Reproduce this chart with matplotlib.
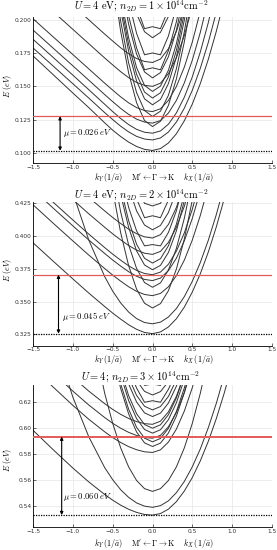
import numpy as np
import matplotlib
matplotlib.use('Agg')
import matplotlib.pyplot as plt

nan = np.nan

# k grid (1/a) shared by the wide bands of every panel
K = [-1.5, -1.25, -1.0, -0.8, -0.6, -0.5, -0.4, -0.3, -0.2, -0.1, 0.0,
     0.1, 0.2, 0.3, 0.4, 0.5, 0.6, 0.7, 0.8, 0.9, 1.0]

# ---- panel 1: n2D = 1e14 ----
p1_wide = [
    [0.173, 0.159, 0.145, 0.134, 0.1225, 0.117, 0.1122, 0.108, 0.1047, 0.1025, 0.1017,
     0.1031, 0.1073, 0.1143, 0.1241, 0.1367, 0.1521, 0.1703, 0.1913, 0.2151, 0.2417],
    [0.179, 0.1655, 0.152, 0.1412, 0.1302, 0.125, 0.12, 0.1157, 0.1123, 0.1103, 0.1096,
     0.1111, 0.1156, 0.1231, 0.1336, 0.1471, 0.1636, 0.1831, 0.2056, 0.2311, nan],
    [0.1855, 0.172, 0.1585, 0.1475, 0.1365, 0.131, 0.1258, 0.1212, 0.1176, 0.1154, 0.1147,
     0.1164, 0.1215, 0.13, 0.1419, 0.1572, 0.1759, 0.198, 0.2235, nan, nan],
    [0.1925, 0.179, 0.1655, 0.1547, 0.1438, 0.1385, 0.1334, 0.1289, 0.1253, 0.1231, 0.1223,
     0.1242, 0.1299, 0.1394, 0.1527, 0.1698, 0.1907, 0.2154, nan, nan, nan],
    [0.201, 0.1875, 0.174, 0.1632, 0.1524, 0.1472, 0.1421, 0.1376, 0.134, 0.1318, 0.131,
     0.1331, 0.1394, 0.1499, 0.1646, 0.1835, 0.2066, nan, nan, nan, nan],
    [0.22, 0.2065, 0.193, 0.1822, 0.1714, 0.1662, 0.1611, 0.1566, 0.153, 0.1508, 0.150,
     0.1524, 0.1596, 0.1716, 0.1884, 0.21, nan, nan, nan, nan, nan],
    [nan, 0.2245, 0.211, 0.2002, 0.1894, 0.1842, 0.1791, 0.1746, 0.171, 0.1688, 0.168,
     0.1706, 0.1784, 0.1914, 0.2096, nan, nan, nan, nan, nan, nan],
]
p1_k_steep = [-0.5, -0.4, -0.3, -0.2, -0.1, 0.0, 0.1, 0.2, 0.3, 0.4, 0.5, 0.6]
p1_steep = [
    [0.2322, 0.1917, 0.1602, 0.1377, 0.1242, 0.1197, 0.1237, 0.1357, 0.1557, 0.1837, 0.2197, nan],
    [0.2398, 0.1993, 0.1678, 0.1453, 0.1318, 0.1273, 0.1313, 0.1433, 0.1633, 0.1913, 0.2273, nan],
    [0.2486, 0.2081, 0.1766, 0.1541, 0.1406, 0.1361, 0.1401, 0.1521, 0.1721, 0.2001, 0.2361, nan],
    [0.2537, 0.2132, 0.1817, 0.1592, 0.1457, 0.1412, 0.1452, 0.1572, 0.1772, 0.2052, nan, nan],
    [0.2587, 0.2182, 0.1867, 0.1642, 0.1507, 0.1462, 0.1502, 0.1622, 0.1822, 0.2102, nan, nan],
    [nan, 0.2284, 0.1969, 0.1744, 0.1609, 0.1564, 0.1604, 0.1724, 0.1924, 0.2204, nan, nan],
    [nan, 0.2347, 0.2032, 0.179, 0.1625, 0.164, 0.1625, 0.177, 0.1987, 0.2267, nan, nan],
    [nan, 0.246, 0.2145, 0.19, 0.1738, 0.1752, 0.1738, 0.188, 0.21, nan, nan, nan],
    [nan, nan, 0.2272, 0.2047, 0.1912, 0.1867, 0.1907, 0.2027, 0.2227, nan, nan, nan],
    [nan, nan, 0.2352, 0.21, 0.1935, 0.195, 0.1935, 0.208, nan, nan, nan, nan],
]
p1_emin, p1_efermi = 0.1015, 0.1275
p1_yticks = [0.100, 0.125, 0.150, 0.175, 0.200]

# ---- panel 2: n2D = 2e14 ----
p2_wide = [
    [0.3949, 0.381, 0.3673, 0.3565, 0.3462, 0.3412, 0.3366, 0.3323, 0.3288, 0.3264, 0.3255,
     0.3268, 0.3306, 0.3369, 0.3458, 0.3573, 0.3712, 0.3877, 0.4068, 0.4284, nan],
    [nan, nan, 0.433, 0.397, 0.369, 0.358, 0.349, 0.342, 0.337, 0.334, 0.333,
     0.3343, 0.3382, 0.3447, 0.3538, 0.3655, 0.3798, 0.3967, 0.4162, 0.4383, nan],
    [0.4239, 0.41, 0.3963, 0.3855, 0.3752, 0.3702, 0.3656, 0.3613, 0.3578, 0.3554, 0.3545,
     0.3562, 0.3613, 0.3698, 0.3817, 0.397, 0.4157, 0.4378, nan, nan, nan],
    [0.4354, 0.4215, 0.4078, 0.397, 0.3867, 0.3817, 0.3771, 0.3728, 0.3693, 0.3669, 0.366,
     0.3679, 0.3736, 0.3831, 0.3964, 0.4135, 0.4344, nan, nan, nan, nan],
    [0.4399, 0.426, 0.4123, 0.4015, 0.3912, 0.3862, 0.3816, 0.3773, 0.3738, 0.3714, 0.3705,
     0.3725, 0.3785, 0.3885, 0.4025, 0.4205, 0.4425, nan, nan, nan, nan],
    [nan, 0.4415, 0.4278, 0.417, 0.4067, 0.4017, 0.3971, 0.3928, 0.3893, 0.3869, 0.386,
     0.3883, 0.3952, 0.4067, 0.4228, 0.4435, nan, nan, nan, nan, nan],
    [nan, nan, 0.4403, 0.4295, 0.4192, 0.4142, 0.4096, 0.4053, 0.4018, 0.3994, 0.3985,
     0.4011, 0.4089, 0.4219, 0.4401, nan, nan, nan, nan, nan, nan],
]
p2_k_steep = [-0.6, -0.5, -0.4, -0.3, -0.2, -0.1, 0.0, 0.1, 0.2, 0.3, 0.4, 0.5, 0.6]
p2_steep = [
    [0.4747, 0.4351, 0.4027, 0.3775, 0.3595, 0.3487, 0.3451, 0.3484, 0.3583, 0.3748, 0.3979, 0.4276, 0.4639],
    [nan, 0.4509, 0.4185, 0.3933, 0.3753, 0.3645, 0.3609, 0.3642, 0.3741, 0.3906, 0.4137, 0.4434, nan],
    [nan, 0.4643, 0.4319, 0.4067, 0.3887, 0.3779, 0.3743, 0.3776, 0.3875, 0.404, 0.4271, nan, nan],
    [nan, nan, 0.437, 0.4118, 0.3938, 0.383, 0.3794, 0.3827, 0.3926, 0.4091, 0.4322, nan, nan],
    [nan, nan, 0.4472, 0.422, 0.404, 0.3925, 0.3935, 0.3925, 0.4028, 0.4193, 0.4424, nan, nan],
    [nan, nan, nan, 0.4372, 0.4192, 0.4084, 0.4048, 0.4081, 0.418, 0.4345, nan, nan, nan],
    [nan, nan, nan, 0.4474, 0.4285, 0.414, 0.4155, 0.414, 0.4275, 0.4447, nan, nan, nan],
    [nan, nan, nan, nan, 0.437, 0.425, 0.423, 0.425, 0.436, nan, nan, nan, nan],
]
p2_emin, p2_efermi = 0.3255, 0.3705
p2_yticks = [0.325, 0.350, 0.375, 0.400, 0.425]

# ---- panel 3: n2D = 3e14 ----
p3_wide = [
    [0.5984, 0.5836, 0.5693, 0.5586, 0.5489, 0.5445, 0.5407, 0.5375, 0.5351, 0.5335, 0.533,
     0.5342, 0.5376, 0.5434, 0.5516, 0.562, 0.5748, 0.5898, 0.6072, 0.627, 0.649],
    [nan, 0.6718, 0.624, 0.5934, 0.5696, 0.5603, 0.5526, 0.5467, 0.5424, 0.5399, 0.539,
     0.5403, 0.544, 0.5503, 0.559, 0.5703, 0.584, 0.6003, 0.619, 0.6403, nan],
    [nan, nan, nan, 0.6857, 0.6269, 0.6038, 0.5849, 0.5702, 0.5597, 0.5534, 0.5513,
     0.5534, 0.5597, 0.5702, 0.5849, 0.6038, 0.6269, 0.6542, nan, nan, nan],
    [0.6467, 0.6319, 0.6176, 0.6069, 0.5972, 0.5928, 0.589, 0.5858, 0.5834, 0.5818, 0.5813,
     0.5833, 0.5893, 0.5993, 0.6133, 0.6313, 0.6533, nan, nan, nan, nan],
    [0.6577, 0.6429, 0.6286, 0.6179, 0.6082, 0.6038, 0.6, 0.5968, 0.5944, 0.5928, 0.5923,
     0.5945, 0.6011, 0.6121, 0.6275, 0.6473, nan, nan, nan, nan, nan],
    [nan, 0.6536, 0.6393, 0.6286, 0.6189, 0.6145, 0.6107, 0.6075, 0.6051, 0.6035, 0.603,
     0.6054, 0.6126, 0.6246, 0.6414, nan, nan, nan, nan, nan, nan],
]
p3_k_steep = [-0.5, -0.4, -0.3, -0.2, -0.1, 0.0, 0.1, 0.2, 0.3, 0.4, 0.5]
p3_steep = [
    [0.6559, 0.6307, 0.6111, 0.5971, 0.5887, 0.5859, 0.5885, 0.5963, 0.6093, 0.6275, 0.6509],
    [0.6595, 0.6343, 0.6147, 0.6007, 0.5923, 0.5895, 0.5921, 0.5999, 0.6129, 0.6311, 0.6545],
    [0.6662, 0.641, 0.6214, 0.6074, 0.599, 0.5962, 0.5988, 0.6066, 0.6196, 0.6378, nan],
    [nan, 0.6448, 0.6252, 0.6112, 0.6028, 0.6, 0.6026, 0.6104, 0.6234, 0.6416, nan],
    [nan, 0.6538, 0.6342, 0.6202, 0.6118, 0.609, 0.6116, 0.6194, 0.6324, 0.6506, nan],
    [nan, 0.6589, 0.6393, 0.6253, 0.6169, 0.6141, 0.6167, 0.6245, 0.6375, nan, nan],
    [nan, nan, 0.6457, 0.631, 0.62, 0.6212, 0.62, 0.63, 0.6439, nan, nan],
    [nan, nan, 0.6508, 0.6368, 0.6284, 0.6256, 0.6282, 0.636, nan, nan, nan],
    [nan, nan, nan, 0.644, 0.633, 0.634, 0.633, 0.643, nan, nan, nan],
]
p3_emin, p3_efermi = 0.533, 0.5935
p3_yticks = [0.54, 0.56, 0.58, 0.60, 0.62]

x_ticks = [-1.5, -1.0, -0.5, 0.0, 0.5, 1.0, 1.5]
x_ticklabels = ['\u22121.5', '\u22121.0', '\u22120.5', '0.0', '0.5', '1.0', '1.5']

plt.rcParams['mathtext.fontset'] = 'cm'
plt.rcParams['font.family'] = 'DejaVu Sans'

W, H = 277, 550
fig = plt.figure(figsize=(W / 100, H / 100), dpi=100)

XLABEL = r"$k_Y\,(1/\bar{a})\quad\ \mathrm{M'} \leftarrow \Gamma \rightarrow \mathrm{K}\quad\ k_X\,(1/\bar{a})$"

panels = [
    dict(rect=(33, 17, 272, 163.3), ylim=(0.092, 0.2023), yticks=p1_yticks, fmt='%.3f',
         wide=p1_wide, ks=p1_k_steep, steep=p1_steep, emin=p1_emin, ef=p1_efermi,
         arrow_x=-1.16, mu=r'$\mu = 0.026\ eV$', mu_pos=(-1.12, 0.1146),
         title=r'$U = 4\ \mathrm{eV};\, n_{2D} = 1 \times 10^{14}\mathrm{cm}^{-2}$',
         title_y=6, xlabel_y=177, ylabel_y=86, red_lw=0.9),
    dict(rect=(33, 202, 272, 345.7), ylim=(0.3163, 0.426), yticks=p2_yticks, fmt='%.3f',
         wide=p2_wide, ks=p2_k_steep, steep=p2_steep, emin=p2_emin, ef=p2_efermi,
         arrow_x=-1.18, mu=r'$\mu = 0.045\ eV$', mu_pos=(-1.14, 0.3384),
         title=r'$U = 4\ \mathrm{eV};\, n_{2D} = 2 \times 10^{14}\mathrm{cm}^{-2}$',
         title_y=195, xlabel_y=359.5, ylabel_y=270, red_lw=0.9),
    dict(rect=(33, 385, 272, 527.3), ylim=(0.5236, 0.6333), yticks=p3_yticks, fmt='%.2f',
         wide=p3_wide, ks=p3_k_steep, steep=p3_steep, emin=p3_emin, ef=p3_efermi,
         arrow_x=-1.14, mu=r'$\mu = 0.060\ eV$', mu_pos=(-1.12, 0.5472),
         title=r'$U = 4;\, n_{2D} = 3 \times 10^{14}\mathrm{cm}^{-2}$',
         title_y=377, xlabel_y=543, ylabel_y=460, red_lw=1.4),
]

for p in panels:
    x0, y0, x1, y1 = p['rect']
    ax = fig.add_axes([x0 / W, 1 - y1 / H, (x1 - x0) / W, (y1 - y0) / H])

    for band in p['wide']:
        ax.plot(K, band, color='#333333', lw=0.7)
    for band in p['steep']:
        ax.plot(p['ks'], band, color='#333333', lw=0.7)

    ax.axhline(p['ef'], color='#e45a5a', lw=p['red_lw'], zorder=3)
    ax.axhline(p['emin'], color='k', lw=0.9, ls=(0, (1, 1)), zorder=3)
    ax.annotate('', xy=(p['arrow_x'], p['ef']), xytext=(p['arrow_x'], p['emin']),
                arrowprops=dict(arrowstyle='<|-|>', color='k', lw=0.8,
                                mutation_scale=4.5, shrinkA=0, shrinkB=0))
    ax.text(p['mu_pos'][0], p['mu_pos'][1], p['mu'], fontsize=6.2, va='center', ha='left')

    ax.set_xlim(-1.5, 1.5)
    ax.set_ylim(*p['ylim'])
    ax.set_xticks(x_ticks)
    ax.set_xticklabels(x_ticklabels)
    ax.set_yticks(p['yticks'])
    ax.set_yticklabels([p['fmt'] % v for v in p['yticks']])
    ax.tick_params(labelsize=4.2, length=2, width=0.5, direction='in', pad=1.0,
                   colors='#333333')
    ax.grid(True, color='#e6e6e6', lw=0.5)
    ax.set_axisbelow(True)
    for s in ['top', 'right']:
        ax.spines[s].set_visible(False)
    for s in ['left', 'bottom']:
        ax.spines[s].set_linewidth(0.6)

    fig.text(141 / W, 1 - p['title_y'] / H, p['title'], fontsize=7.5,
             ha='center', va='center')
    fig.text(154 / W, 1 - p['xlabel_y'] / H, XLABEL, fontsize=5.8,
             ha='center', va='center')
    fig.text(7.5 / W, 1 - p['ylabel_y'] / H, r'$E\ (eV)$', fontsize=5.8, rotation=90,
             ha='center', va='center')

fig.savefig('out.png', dpi=100)
